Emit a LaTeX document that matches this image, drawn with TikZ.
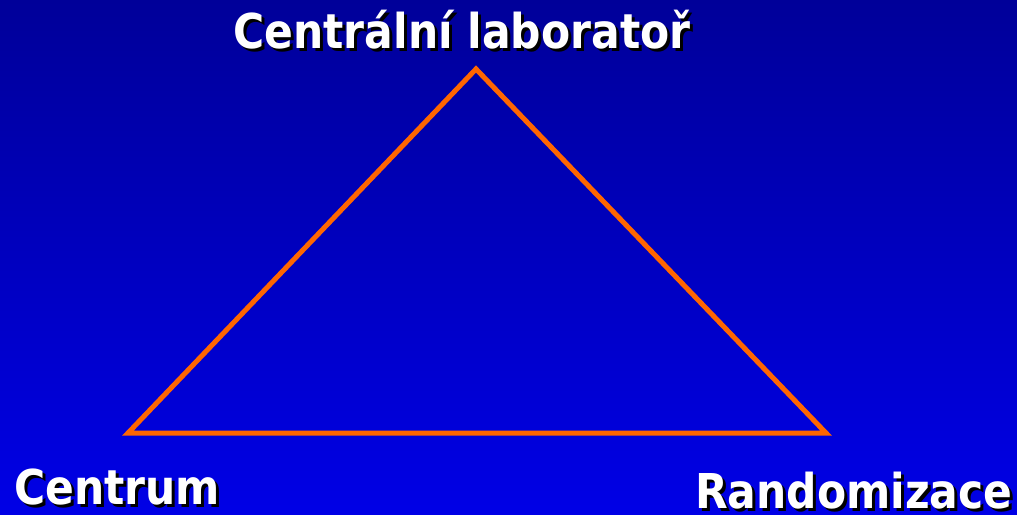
\documentclass[tikz,border=0pt]{standalone}
\usepackage{fontspec}
\setmainfont{DejaVu Sans}
\newfontfamily\lblfont{DejaVu Sans}[FakeStretch=0.885]
\usepackage{tikz}
\usetikzlibrary{positioning}
\definecolor{bgtop}{HTML}{000099}
\definecolor{bgbot}{HTML}{0000E6}
\definecolor{edge}{HTML}{FF6600}

\begin{document}
\begin{tikzpicture}[
  x=1pt,y=-1pt,
  lbl/.style={font=\lblfont\bfseries\fontsize{48}{48}\selectfont,text=white,inner sep=0pt},
  shd/.style={lbl,text=black},
  side/.style={draw=edge,line width=5pt,line join=miter}
]
  \shade[top color=bgtop,bottom color=bgbot] (0,0) rectangle (1017,514);
  \useasboundingbox (0,0) rectangle (1017,514);

  % vertices
  \coordinate (lab) at (476,69);
  \coordinate (ctr) at (128,433);
  \coordinate (rnd) at (826,433);

  \draw[side] (lab) -- (rnd) -- (ctr) -- cycle;

  % labels with shadow
  \node[shd,anchor=base] (labS) at (465,51) {Centrální laboratoř};
  \node[lbl,anchor=base] (labT) at (462,48) {Centrální laboratoř};
  \node[shd,anchor=base west] (ctrS) at (17,507) {Centrum};
  \node[lbl,anchor=base west] (ctrT) at (14,504) {Centrum};
  \node[shd,anchor=base west] (rndS) at (698,511) {Randomizace};
  \node[lbl,anchor=base west] (rndT) at (695,508) {Randomizace};
\end{tikzpicture}
\end{document}
